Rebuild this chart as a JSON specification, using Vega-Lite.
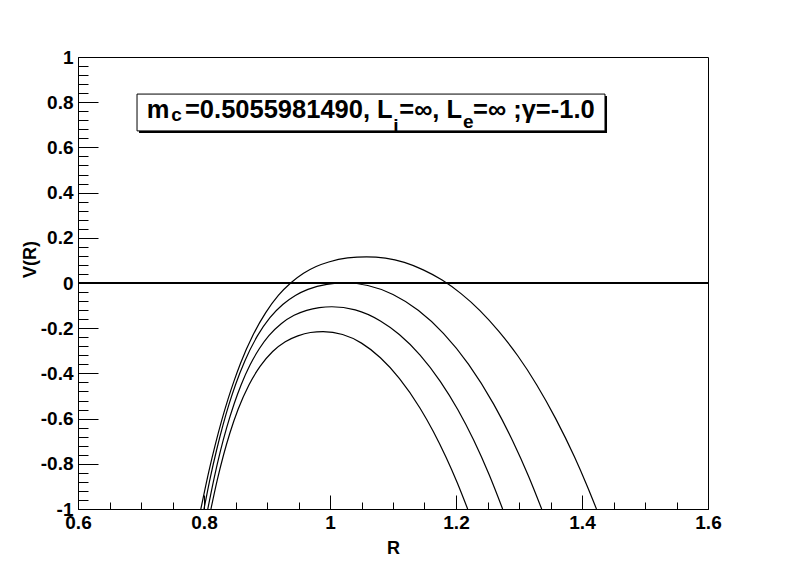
{
  "$schema": "https://vega.github.io/schema/vega-lite/v6.json",
  "width": 630,
  "height": 452,
  "autosize": {"type": "none"},
  "padding": {"left": 78, "top": 57, "right": 81, "bottom": 57},
  "background": "white",
  "config": {
    "view": {"stroke": "black", "strokeWidth": 1},
    "axis": {
      "grid": false, "domainColor": "black", "tickColor": "black", "labelColor": "black", "titleColor": "black",
      "labelFont": "Liberation Sans", "titleFont": "Liberation Sans", "labelFontWeight": "bold", "titleFontWeight": "bold",
      "labelFontSize": 19, "titleFontSize": 18, "labelOverlap": false, "labelFlush": false, "labelBound": false, "tickWidth": 1, "domainWidth": 1
    }
  },
  "datasets": {
    "curves": [
      {"curve": "A", "R": 0.795, "V": -1.0},
      {"curve": "A", "R": 0.808, "V": -0.830},
      {"curve": "A", "R": 0.818, "V": -0.714},
      {"curve": "A", "R": 0.828, "V": -0.609},
      {"curve": "A", "R": 0.838, "V": -0.515},
      {"curve": "A", "R": 0.848, "V": -0.431},
      {"curve": "A", "R": 0.858, "V": -0.355},
      {"curve": "A", "R": 0.878, "V": -0.229},
      {"curve": "A", "R": 0.898, "V": -0.131},
      {"curve": "A", "R": 0.918, "V": -0.055},
      {"curve": "A", "R": 0.938, "V": 0.001},
      {"curve": "A", "R": 0.958, "V": 0.043},
      {"curve": "A", "R": 0.978, "V": 0.073},
      {"curve": "A", "R": 0.998, "V": 0.093},
      {"curve": "A", "R": 1.028, "V": 0.111},
      {"curve": "A", "R": 1.058, "V": 0.116},
      {"curve": "A", "R": 1.088, "V": 0.110},
      {"curve": "A", "R": 1.118, "V": 0.091},
      {"curve": "A", "R": 1.148, "V": 0.058},
      {"curve": "A", "R": 1.178, "V": 0.013},
      {"curve": "A", "R": 1.208, "V": -0.047},
      {"curve": "A", "R": 1.238, "V": -0.122},
      {"curve": "A", "R": 1.268, "V": -0.214},
      {"curve": "A", "R": 1.298, "V": -0.322},
      {"curve": "A", "R": 1.328, "V": -0.450},
      {"curve": "A", "R": 1.358, "V": -0.599},
      {"curve": "A", "R": 1.388, "V": -0.769},
      {"curve": "A", "R": 1.408, "V": -0.897},
      {"curve": "A", "R": 1.423, "V": -1.0},
      {"curve": "B", "R": 0.800, "V": -1.0},
      {"curve": "B", "R": 0.810, "V": -0.861},
      {"curve": "B", "R": 0.820, "V": -0.739},
      {"curve": "B", "R": 0.830, "V": -0.630},
      {"curve": "B", "R": 0.840, "V": -0.534},
      {"curve": "B", "R": 0.850, "V": -0.450},
      {"curve": "B", "R": 0.865, "V": -0.344},
      {"curve": "B", "R": 0.885, "V": -0.233},
      {"curve": "B", "R": 0.905, "V": -0.152},
      {"curve": "B", "R": 0.925, "V": -0.095},
      {"curve": "B", "R": 0.945, "V": -0.055},
      {"curve": "B", "R": 0.965, "V": -0.028},
      {"curve": "B", "R": 0.995, "V": -0.006},
      {"curve": "B", "R": 1.025, "V": 0.0},
      {"curve": "B", "R": 1.060, "V": -0.011},
      {"curve": "B", "R": 1.100, "V": -0.051},
      {"curve": "B", "R": 1.140, "V": -0.121},
      {"curve": "B", "R": 1.180, "V": -0.223},
      {"curve": "B", "R": 1.220, "V": -0.360},
      {"curve": "B", "R": 1.260, "V": -0.537},
      {"curve": "B", "R": 1.290, "V": -0.699},
      {"curve": "B", "R": 1.315, "V": -0.854},
      {"curve": "B", "R": 1.336, "V": -1.0},
      {"curve": "C", "R": 0.806, "V": -1.0},
      {"curve": "C", "R": 0.816, "V": -0.864},
      {"curve": "C", "R": 0.826, "V": -0.744},
      {"curve": "C", "R": 0.836, "V": -0.640},
      {"curve": "C", "R": 0.848, "V": -0.533},
      {"curve": "C", "R": 0.859, "V": -0.450},
      {"curve": "C", "R": 0.873, "V": -0.363},
      {"curve": "C", "R": 0.888, "V": -0.290},
      {"curve": "C", "R": 0.903, "V": -0.233},
      {"curve": "C", "R": 0.923, "V": -0.179},
      {"curve": "C", "R": 0.943, "V": -0.143},
      {"curve": "C", "R": 0.963, "V": -0.121},
      {"curve": "C", "R": 0.983, "V": -0.109},
      {"curve": "C", "R": 1.003, "V": -0.105},
      {"curve": "C", "R": 1.040, "V": -0.119},
      {"curve": "C", "R": 1.080, "V": -0.168},
      {"curve": "C", "R": 1.110, "V": -0.228},
      {"curve": "C", "R": 1.143, "V": -0.319},
      {"curve": "C", "R": 1.175, "V": -0.435},
      {"curve": "C", "R": 1.203, "V": -0.561},
      {"curve": "C", "R": 1.228, "V": -0.695},
      {"curve": "C", "R": 1.253, "V": -0.851},
      {"curve": "C", "R": 1.274, "V": -1.0},
      {"curve": "D", "R": 0.811, "V": -1.0},
      {"curve": "D", "R": 0.821, "V": -0.872},
      {"curve": "D", "R": 0.831, "V": -0.761},
      {"curve": "D", "R": 0.841, "V": -0.665},
      {"curve": "D", "R": 0.854, "V": -0.560},
      {"curve": "D", "R": 0.8715, "V": -0.450},
      {"curve": "D", "R": 0.889, "V": -0.369},
      {"curve": "D", "R": 0.909, "V": -0.303},
      {"curve": "D", "R": 0.929, "V": -0.260},
      {"curve": "D", "R": 0.949, "V": -0.234},
      {"curve": "D", "R": 0.969, "V": -0.219},
      {"curve": "D", "R": 0.989, "V": -0.215},
      {"curve": "D", "R": 1.020, "V": -0.228},
      {"curve": "D", "R": 1.050, "V": -0.266},
      {"curve": "D", "R": 1.080, "V": -0.331},
      {"curve": "D", "R": 1.110, "V": -0.422},
      {"curve": "D", "R": 1.143, "V": -0.554},
      {"curve": "D", "R": 1.164, "V": -0.657},
      {"curve": "D", "R": 1.184, "V": -0.770},
      {"curve": "D", "R": 1.202, "V": -0.884},
      {"curve": "D", "R": 1.2185, "V": -1.0}
    ]
  },
  "layer": [
    {
      "data": {"values": [{"x0": 0.6, "x1": 1.6, "y": 0}]},
      "mark": {"type": "rule", "color": "black", "strokeWidth": 2},
      "encoding": {
        "x": {"field": "x0", "type": "quantitative", "scale": {"domain": [0.6, 1.6], "nice": false, "zero": false},
              "axis": {"orient": "bottom", "values": [0.65, 0.7, 0.75, 0.85, 0.9, 0.95, 1.05, 1.1, 1.15, 1.25, 1.3, 1.35, 1.45, 1.5, 1.55], "tickSize": -7, "labels": false, "domain": false, "title": null}},
        "x2": {"field": "x1"},
        "y": {"field": "y", "type": "quantitative", "scale": {"domain": [-1, 1], "nice": false, "zero": false},
              "axis": {"orient": "left", "values": [-0.96, -0.92, -0.88, -0.84, -0.76, -0.72, -0.68, -0.64, -0.56, -0.52, -0.48, -0.44, -0.36, -0.32, -0.28, -0.24, -0.16, -0.12, -0.08, -0.04, 0.04, 0.08, 0.12, 0.16, 0.24, 0.28, 0.32, 0.36, 0.44, 0.48, 0.52, 0.56, 0.64, 0.68, 0.72, 0.76, 0.84, 0.88, 0.92, 0.96], "tickSize": -10, "labels": false, "domain": false, "title": null}}
      }
    },
    {
      "data": {"name": "curves"},
      "mark": {"type": "line", "color": "black", "strokeWidth": 1.2, "interpolate": "monotone", "clip": true},
      "encoding": {
        "x": {"field": "R", "type": "quantitative",
              "axis": {"orient": "bottom", "values": [0.6, 0.8, 1, 1.2, 1.4, 1.6], "labelExpr": "datum.value < 0 ? '-' + format(-datum.value, '~g') : format(datum.value, '~g')", "tickSize": -14, "labelPadding": 18, "title": "R", "titleX": 315, "titleY": 39, "titleBaseline": "middle", "titleAlign": "center"}},
        "y": {"field": "V", "type": "quantitative",
              "axis": {"orient": "left", "values": [-1, -0.8, -0.6, -0.4, -0.2, 0, 0.2, 0.4, 0.6, 0.8, 1], "labelExpr": "datum.value < 0 ? '-' + format(-datum.value, '~g') : format(datum.value, '~g')", "tickSize": -20, "labelPadding": 25, "title": "V(R)", "titleX": -48, "titleY": 202, "titleAngle": 270, "titleBaseline": "middle", "titleAlign": "center"}},
        "detail": {"field": "curve"}
      }
    },
    {
      "data": {"values": [{}]},
      "mark": {"type": "rect", "color": "black"},
      "encoding": {
        "x": {"datum": 0.6969, "type": "quantitative", "axis": null},
        "x2": {"datum": 1.4397},
        "y": {"datum": 0.8272, "type": "quantitative", "axis": null},
        "y2": {"datum": 0.6642}
      }
    },
    {
      "data": {"values": [{}]},
      "mark": {"type": "rect", "fill": "white", "stroke": "black", "strokeWidth": 1},
      "encoding": {
        "x": {"datum": 0.6937, "type": "quantitative", "axis": null},
        "x2": {"datum": 1.4365},
        "y": {"datum": 0.836, "type": "quantitative", "axis": null},
        "y2": {"datum": 0.673}
      }
    },
    {
      "data": {"values": [{}]},
      "mark": {"type": "text", "align": "left", "baseline": "alphabetic", "font": "Liberation Sans", "fontWeight": "bold", "fontSize": 25.5, "color": "black"},
      "encoding": {"x": {"datum": 0.709, "type": "quantitative", "axis": null}, "y": {"datum": 0.730, "type": "quantitative", "axis": null}, "text": {"value": "m"}}
    },
    {
      "data": {"values": [{}]},
      "mark": {"type": "text", "align": "left", "baseline": "alphabetic", "font": "Liberation Sans", "fontWeight": "bold", "fontSize": 19, "color": "black"},
      "encoding": {"x": {"datum": 0.7480, "type": "quantitative", "axis": null}, "y": {"datum": 0.717, "type": "quantitative", "axis": null}, "text": {"value": "c"}}
    },
    {
      "data": {"values": [{}]},
      "mark": {"type": "text", "align": "left", "baseline": "alphabetic", "font": "Liberation Sans", "fontWeight": "bold", "fontSize": 25.5, "color": "black"},
      "encoding": {"x": {"datum": 0.7698, "type": "quantitative", "axis": null}, "y": {"datum": 0.730, "type": "quantitative", "axis": null}, "text": {"value": "=0.5055981490, L"}}
    },
    {
      "data": {"values": [{}]},
      "mark": {"type": "text", "align": "left", "baseline": "alphabetic", "font": "Liberation Sans", "fontWeight": "bold", "fontSize": 19, "color": "black"},
      "encoding": {"x": {"datum": 1.1005, "type": "quantitative", "axis": null}, "y": {"datum": 0.668, "type": "quantitative", "axis": null}, "text": {"value": "i"}}
    },
    {
      "data": {"values": [{}]},
      "mark": {"type": "text", "align": "left", "baseline": "alphabetic", "font": "Liberation Sans", "fontWeight": "bold", "fontSize": 25.5, "color": "black"},
      "encoding": {"x": {"datum": 1.1100, "type": "quantitative", "axis": null}, "y": {"datum": 0.730, "type": "quantitative", "axis": null}, "text": {"value": "=∞, L"}}
    },
    {
      "data": {"values": [{}]},
      "mark": {"type": "text", "align": "left", "baseline": "alphabetic", "font": "Liberation Sans", "fontWeight": "bold", "fontSize": 19, "color": "black"},
      "encoding": {"x": {"datum": 1.2111, "type": "quantitative", "axis": null}, "y": {"datum": 0.686, "type": "quantitative", "axis": null}, "text": {"value": "e"}}
    },
    {
      "data": {"values": [{}]},
      "mark": {"type": "text", "align": "left", "baseline": "alphabetic", "font": "Liberation Sans", "fontWeight": "bold", "fontSize": 25.5, "color": "black"},
      "encoding": {"x": {"datum": 1.2270, "type": "quantitative", "axis": null}, "y": {"datum": 0.730, "type": "quantitative", "axis": null}, "text": {"value": "=∞ ;γ=-1.0"}}
    }
  ],
  "resolve": {"axis": {"x": "independent", "y": "independent"}}
}
